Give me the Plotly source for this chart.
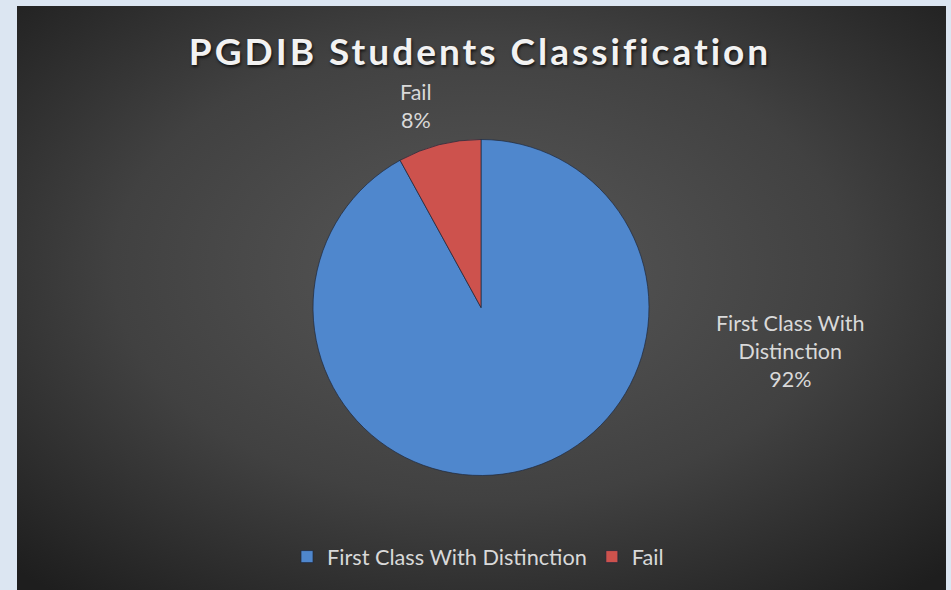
import base64
import plotly.graph_objects as go

# ---- data ----
categories = ["First Class With Distinction", "Fail"]
values = [92, 8]
label_display = ["First Class With<br>Distinction", "Fail"]
colors = ["#4f87cd", "#cd524d"]
title_text = "PGDIB Students Classification"

W, H = 951, 590
total = sum(values)
pcts = [round(v / total * 100) for v in values]

# radial gradient background (decoration)
svg = (
    "<svg xmlns='http://www.w3.org/2000/svg' width='929' height='584' preserveAspectRatio='none'>"
    "<defs><radialGradient id='g' cx='50%' cy='45%' r='72%'>"
    "<stop offset='0' stop-color='#585858'/>"
    "<stop offset='0.55' stop-color='#414141'/>"
    "<stop offset='1' stop-color='#1e1e1e'/>"
    "</radialGradient></defs>"
    "<rect width='100%' height='100%' fill='url(#g)'/></svg>"
)
svg_uri = "data:image/svg+xml;base64," + base64.b64encode(svg.encode()).decode()

fig = go.Figure()
fig.add_trace(go.Pie(
    labels=categories,
    values=values,
    sort=False,
    direction="clockwise",
    rotation=0,
    textinfo="none",
    hoverinfo="label+percent",
    marker=dict(colors=colors, line=dict(color="rgba(30,40,60,0.7)", width=1)),
    domain=dict(x=[(481 - 168) / W, (481 + 168) / W],
                y=[(H - 307.5 - 168) / H, (H - 307.5 + 168) / H]),
))

label_pos = [(790, 351), (415.5, 106)]
annotations = []
for disp, p, (px, py) in zip(label_display, pcts, label_pos):
    annotations.append(dict(
        text=f"{disp}<br>{p}%", x=px / W, y=(H - py) / H, xref="paper", yref="paper",
        xanchor="center", yanchor="middle", showarrow=False, align="center",
        font=dict(family="Lato", size=21.5, color="#d9d9d9"),
    ))

fig.update_layout(
    width=W, height=H,
    margin=dict(l=0, r=0, t=0, b=0),
    paper_bgcolor="#dce6f2",
    plot_bgcolor="rgba(0,0,0,0)",
    title=dict(text=f"<b>{title_text}</b>", x=480 / W, xanchor="center",
               y=(H - 52) / H, yanchor="middle", xref="paper", yref="paper",
               font=dict(family="Lato", size=37, color="#f2f2f2",
                         shadow="1px 2px 3px rgba(0,0,0,0.7)")),
    images=[dict(source=svg_uri, xref="paper", yref="paper",
                 x=17 / W, y=1 - 6 / H, sizex=929 / W, sizey=584 / H,
                 sizing="stretch", xanchor="left", yanchor="top", layer="below")],
    annotations=annotations,
    showlegend=True,
    legend=dict(orientation="h", x=478 / W, xanchor="center", y=(H - 557) / H,
                yanchor="middle", font=dict(family="Lato", size=21.7, color="#d9d9d9"),
                bgcolor="rgba(0,0,0,0)", itemwidth=30, traceorder="normal"),
)

post = (
    "document.body.style.margin='0';document.body.style.overflow='hidden';"
    "var s=document.createElement('style');"
    "s.textContent='.gtitle{letter-spacing:3px;font-variant-ligatures:none;}';"
    "document.head.appendChild(s);"
)
fig.write_html("out.html", config={"displayModeBar": False}, post_script=post)
